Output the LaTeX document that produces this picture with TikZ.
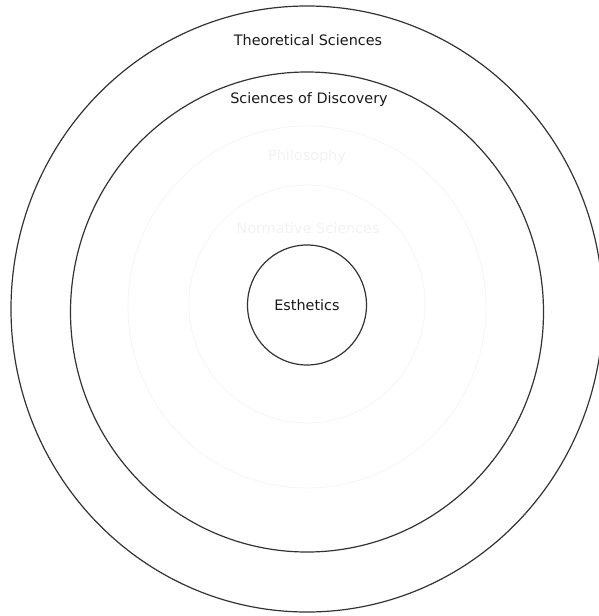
\documentclass[tikz,border=0pt]{standalone}
\usepackage{fontspec}
\setmainfont{DejaVu Sans}
\usetikzlibrary{positioning}

\begin{document}
\begin{tikzpicture}[x=1pt, y=-1pt, font=\fontsize{14.4}{17}\selectfont,
        ring/.style={draw=black!80, line width=1.2pt},
        faint/.style={draw=black!4, line width=0.8pt},
        label/.style={inner sep=1pt, text=black!90},
        ghost/.style={inner sep=1pt, text=black!5}]
    \useasboundingbox (0,0) rectangle (598,616);
    \coordinate (c) at (307,309);
    % rings
    \draw[ring] (c) ellipse [x radius=296, y radius=303];
    \draw[ring] (307,312) ellipse [x radius=236.5, y radius=240];
    \draw[faint] (307,307) ellipse [x radius=179, y radius=181];
    \draw[faint] (307,304) ellipse [x radius=118, y radius=119];
    \draw[ring] (307,305) ellipse [x radius=59.5, y radius=60];
    % labels
    \node[label] (theo) at (308,40) {Theoretical Sciences};
    \node[label] (disc) at (309,100) {Sciences of Discovery};
    \node[ghost] (phil) at (307,157) {Philosophy};
    \node[ghost] (norm) at (308,228) {Normative Sciences};
    \node[label] (esth) at (307,305) {Esthetics};
\end{tikzpicture}
\end{document}
